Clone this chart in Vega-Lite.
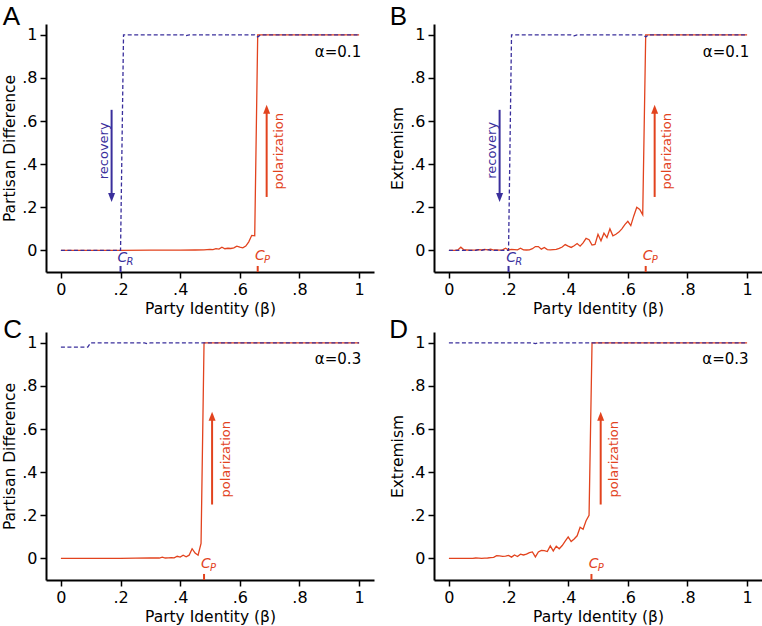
{
  "$schema": "https://vega.github.io/schema/vega-lite/v6.json",
  "padding": {"left": 2, "top": 3, "right": 0, "bottom": 0},
  "columns": 2,
  "spacing": {"row": -1, "column": 15},
  "config": {
    "view": {"stroke": null},
    "font": "DejaVu Sans",
    "text": {"baseline": "alphabetic"},
    "axis": {"domainColor": "#000", "domainWidth": 2, "tickColor": "#000", "tickWidth": 1.5, "tickSize": 6, "labelPadding": 3, "labelFontSize": 16, "labelColor": "#000", "titleFontSize": 15.5, "titleFontWeight": "normal", "titleColor": "#000", "grid": false, "labelFont": "DejaVu Sans", "titleFont": "DejaVu Sans", "titlePadding": 4, "labelOverlap": false, "labelFlush": false}
  },
  "datasets": {
    "A_pol": [
      {"beta": 0, "value": 0}, {"beta": 0.1, "value": 0}, {"beta": 0.2, "value": 0}, {"beta": 0.3, "value": 0.001}, {"beta": 0.4, "value": 0.001}, {"beta": 0.45, "value": 0.002}, {"beta": 0.48, "value": 0.003}, {"beta": 0.5, "value": 0.005}, {"beta": 0.51, "value": 0.004}, {"beta": 0.52, "value": 0.008}, {"beta": 0.53, "value": 0.006}, {"beta": 0.54, "value": 0.015}, {"beta": 0.55, "value": 0.008}, {"beta": 0.56, "value": 0.01}, {"beta": 0.57, "value": 0.009}, {"beta": 0.58, "value": 0.012}, {"beta": 0.59, "value": 0.02}, {"beta": 0.6, "value": 0.015}, {"beta": 0.61, "value": 0.012}, {"beta": 0.62, "value": 0.02}, {"beta": 0.63, "value": 0.04}, {"beta": 0.64, "value": 0.07}, {"beta": 0.65, "value": 0.068}, {"beta": 0.66, "value": 1}, {"beta": 0.8, "value": 1}, {"beta": 1, "value": 1}
    ],
    "A_rec": [
      {"beta": 0, "value": 0}, {"beta": 0.2, "value": 0}, {"beta": 0.21, "value": 1}, {"beta": 0.41, "value": 1}, {"beta": 0.42, "value": 0.996}, {"beta": 0.43, "value": 1}, {"beta": 0.65, "value": 1}, {"beta": 0.66, "value": 0.99}, {"beta": 0.67, "value": 1}, {"beta": 1, "value": 1}
    ],
    "B_pol": [
      {"beta": 0, "value": 0}, {"beta": 0.01, "value": 0}, {"beta": 0.02, "value": 0}, {"beta": 0.03, "value": 0.002}, {"beta": 0.04, "value": 0.015}, {"beta": 0.05, "value": 0.003}, {"beta": 0.06, "value": 0.002}, {"beta": 0.07, "value": 0.001}, {"beta": 0.08, "value": 0.001}, {"beta": 0.09, "value": 0.002}, {"beta": 0.1, "value": 0.004}, {"beta": 0.11, "value": 0.002}, {"beta": 0.12, "value": 0.005}, {"beta": 0.13, "value": 0.003}, {"beta": 0.14, "value": 0.006}, {"beta": 0.15, "value": 0.002}, {"beta": 0.16, "value": 0.002}, {"beta": 0.17, "value": 0.001}, {"beta": 0.18, "value": 0.003}, {"beta": 0.19, "value": 0.01}, {"beta": 0.2, "value": 0.002}, {"beta": 0.21, "value": 0.005}, {"beta": 0.22, "value": 0.004}, {"beta": 0.23, "value": 0.003}, {"beta": 0.24, "value": 0.01}, {"beta": 0.25, "value": 0.003}, {"beta": 0.26, "value": 0.002}, {"beta": 0.27, "value": 0.003}, {"beta": 0.28, "value": 0.008}, {"beta": 0.29, "value": 0.018}, {"beta": 0.3, "value": 0.018}, {"beta": 0.31, "value": 0.006}, {"beta": 0.32, "value": 0.014}, {"beta": 0.33, "value": 0.004}, {"beta": 0.34, "value": 0.003}, {"beta": 0.35, "value": 0.004}, {"beta": 0.36, "value": 0.005}, {"beta": 0.37, "value": 0.01}, {"beta": 0.38, "value": 0.016}, {"beta": 0.39, "value": 0.027}, {"beta": 0.4, "value": 0.02}, {"beta": 0.41, "value": 0.014}, {"beta": 0.42, "value": 0.022}, {"beta": 0.43, "value": 0.032}, {"beta": 0.44, "value": 0.02}, {"beta": 0.45, "value": 0.035}, {"beta": 0.46, "value": 0.056}, {"beta": 0.47, "value": 0.05}, {"beta": 0.48, "value": 0.025}, {"beta": 0.49, "value": 0.028}, {"beta": 0.5, "value": 0.075}, {"beta": 0.51, "value": 0.045}, {"beta": 0.52, "value": 0.08}, {"beta": 0.53, "value": 0.06}, {"beta": 0.54, "value": 0.1}, {"beta": 0.55, "value": 0.068}, {"beta": 0.56, "value": 0.075}, {"beta": 0.57, "value": 0.085}, {"beta": 0.58, "value": 0.1}, {"beta": 0.59, "value": 0.12}, {"beta": 0.6, "value": 0.135}, {"beta": 0.61, "value": 0.115}, {"beta": 0.62, "value": 0.16}, {"beta": 0.63, "value": 0.2}, {"beta": 0.64, "value": 0.19}, {"beta": 0.65, "value": 0.165}, {"beta": 0.66, "value": 1}, {"beta": 0.8, "value": 1}, {"beta": 1, "value": 1}
    ],
    "B_rec": [
      {"beta": 0, "value": 0}, {"beta": 0.09, "value": 0}, {"beta": 0.1, "value": 0.004}, {"beta": 0.11, "value": 0}, {"beta": 0.12, "value": 0.004}, {"beta": 0.13, "value": 0.004}, {"beta": 0.14, "value": 0}, {"beta": 0.2, "value": 0}, {"beta": 0.21, "value": 1}, {"beta": 0.41, "value": 1}, {"beta": 0.42, "value": 0.995}, {"beta": 0.43, "value": 1}, {"beta": 0.65, "value": 1}, {"beta": 0.66, "value": 0.99}, {"beta": 0.67, "value": 1}, {"beta": 1, "value": 1}
    ],
    "C_pol": [
      {"beta": 0, "value": 0}, {"beta": 0.1, "value": 0}, {"beta": 0.2, "value": 0}, {"beta": 0.25, "value": 0.001}, {"beta": 0.3, "value": 0.002}, {"beta": 0.33, "value": 0.002}, {"beta": 0.34, "value": 0.006}, {"beta": 0.35, "value": 0.002}, {"beta": 0.36, "value": 0.003}, {"beta": 0.37, "value": 0.004}, {"beta": 0.38, "value": 0.003}, {"beta": 0.39, "value": 0.01}, {"beta": 0.4, "value": 0.006}, {"beta": 0.41, "value": 0.015}, {"beta": 0.42, "value": 0.008}, {"beta": 0.43, "value": 0.015}, {"beta": 0.44, "value": 0.045}, {"beta": 0.45, "value": 0.025}, {"beta": 0.46, "value": 0.015}, {"beta": 0.47, "value": 0.07}, {"beta": 0.48, "value": 1}, {"beta": 0.7, "value": 1}, {"beta": 1, "value": 1}
    ],
    "C_rec": [
      {"beta": 0, "value": 0.98}, {"beta": 0.09, "value": 0.98}, {"beta": 0.1, "value": 1}, {"beta": 0.28, "value": 1}, {"beta": 0.29, "value": 0.996}, {"beta": 0.3, "value": 1}, {"beta": 1, "value": 1}
    ],
    "D_pol": [
      {"beta": 0, "value": 0}, {"beta": 0.08, "value": 0}, {"beta": 0.09, "value": 0.002}, {"beta": 0.1, "value": 0.001}, {"beta": 0.11, "value": 0}, {"beta": 0.12, "value": 0.001}, {"beta": 0.13, "value": 0.002}, {"beta": 0.14, "value": 0.004}, {"beta": 0.15, "value": 0.005}, {"beta": 0.16, "value": 0.013}, {"beta": 0.17, "value": 0.012}, {"beta": 0.18, "value": 0.01}, {"beta": 0.19, "value": 0.011}, {"beta": 0.2, "value": 0.014}, {"beta": 0.21, "value": 0.006}, {"beta": 0.22, "value": 0.016}, {"beta": 0.23, "value": 0.009}, {"beta": 0.24, "value": 0.02}, {"beta": 0.25, "value": 0.016}, {"beta": 0.26, "value": 0.02}, {"beta": 0.27, "value": 0.027}, {"beta": 0.28, "value": 0.03}, {"beta": 0.29, "value": 0.007}, {"beta": 0.3, "value": 0.03}, {"beta": 0.31, "value": 0.037}, {"beta": 0.32, "value": 0.036}, {"beta": 0.33, "value": 0.032}, {"beta": 0.34, "value": 0.058}, {"beta": 0.35, "value": 0.035}, {"beta": 0.36, "value": 0.057}, {"beta": 0.37, "value": 0.045}, {"beta": 0.38, "value": 0.06}, {"beta": 0.39, "value": 0.08}, {"beta": 0.4, "value": 0.1}, {"beta": 0.41, "value": 0.078}, {"beta": 0.42, "value": 0.09}, {"beta": 0.43, "value": 0.105}, {"beta": 0.44, "value": 0.145}, {"beta": 0.45, "value": 0.135}, {"beta": 0.46, "value": 0.175}, {"beta": 0.47, "value": 0.2}, {"beta": 0.48, "value": 1}, {"beta": 0.7, "value": 1}, {"beta": 1, "value": 1}
    ],
    "D_rec": [
      {"beta": 0, "value": 1}, {"beta": 0.28, "value": 1}, {"beta": 0.29, "value": 0.996}, {"beta": 0.3, "value": 1}, {"beta": 1, "value": 1}
    ]
  },
  "concat": [
    {
      "width": 328, "height": 248,
      "data": {"values": [{}]},
      "layer": [
        {"data": {"name": "A_pol"}, "mark": {"type": "line", "color": "#e2431e", "strokeWidth": 1.3},
         "encoding": {
           "x": {"field": "beta", "type": "quantitative", "scale": {"domain": [-0.05, 1.05], "nice": false, "zero": false}, "axis": {"title": "Party Identity (β)", "values": [0, 0.2, 0.4, 0.6, 0.8, 1], "labelExpr": "datum.value == 0 ? '0' : datum.value == 1 ? '1' : '.' + round(datum.value * 10)"}},
           "y": {"field": "value", "type": "quantitative", "scale": {"domain": [-0.1, 1.05], "nice": false, "zero": false}, "axis": {"title": "Partisan Difference", "values": [0, 0.2, 0.4, 0.6, 0.8, 1], "labelExpr": "datum.value == 0 ? '0' : datum.value == 1 ? '1' : '.' + round(datum.value * 10)"}}}},
        {"data": {"name": "A_rec"}, "mark": {"type": "line", "color": "#3a2f9c", "strokeWidth": 1.3, "strokeDash": [4, 2.5]},
         "encoding": {"x": {"field": "beta", "type": "quantitative"}, "y": {"field": "value", "type": "quantitative"}}},
        {"mark": {"type": "rule", "color": "#3a2f9c", "strokeWidth": 2}, "encoding": {"x": {"datum": 0.17, "type": "quantitative"}, "y": {"datum": 0.652, "type": "quantitative"}, "y2": {"datum": 0.25}}},
        {"mark": {"type": "point", "shape": "M0,0L-0.7,-1.8L0.7,-1.8Z", "size": 100, "filled": true, "opacity": 1, "strokeWidth": 0, "color": "#3a2f9c"}, "encoding": {"x": {"datum": 0.17, "type": "quantitative"}, "y": {"datum": 0.225, "type": "quantitative"}}},
        {"mark": {"type": "text", "text": "recovery", "angle": 270, "align": "center", "baseline": "middle", "fontSize": 13, "color": "#3a2f9c"}, "encoding": {"x": {"datum": 0.145, "type": "quantitative"}, "y": {"datum": 0.462, "type": "quantitative"}}},
        {"mark": {"type": "rule", "color": "#e2431e", "strokeWidth": 2}, "encoding": {"x": {"datum": 0.69, "type": "quantitative"}, "y": {"datum": 0.248, "type": "quantitative"}, "y2": {"datum": 0.65}}},
        {"mark": {"type": "point", "shape": "M0,0L-0.7,1.8L0.7,1.8Z", "size": 100, "filled": true, "opacity": 1, "strokeWidth": 0, "color": "#e2431e"}, "encoding": {"x": {"datum": 0.69, "type": "quantitative"}, "y": {"datum": 0.676, "type": "quantitative"}}},
        {"mark": {"type": "text", "text": "polarization", "angle": 270, "align": "center", "baseline": "middle", "fontSize": 13, "color": "#e2431e"}, "encoding": {"x": {"datum": 0.733, "type": "quantitative"}, "y": {"datum": 0.46, "type": "quantitative"}}},
        {"mark": {"type": "text", "text": "α=0.1", "align": "right", "baseline": "alphabetic", "fontSize": 15, "color": "#000"}, "encoding": {"x": {"datum": 1.007, "type": "quantitative"}, "y": {"datum": 0.898, "type": "quantitative"}}},
        {"mark": {"type": "rule", "color": "#3a2f9c", "strokeWidth": 2}, "encoding": {"x": {"datum": 0.2, "type": "quantitative"}, "y": {"datum": -0.1, "type": "quantitative"}, "y2": {"datum": -0.072}}},
        {"mark": {"type": "text", "text": "C", "fontStyle": "italic", "fontSize": 14, "align": "left", "baseline": "alphabetic", "color": "#3a2f9c"}, "encoding": {"x": {"datum": 0.19, "type": "quantitative"}, "y": {"datum": -0.052, "type": "quantitative"}}},
        {"mark": {"type": "text", "text": "R", "fontStyle": "italic", "fontSize": 10, "align": "left", "baseline": "alphabetic", "dx": 9, "dy": 3, "color": "#3a2f9c"}, "encoding": {"x": {"datum": 0.19, "type": "quantitative"}, "y": {"datum": -0.052, "type": "quantitative"}}},
        {"mark": {"type": "rule", "color": "#e2431e", "strokeWidth": 2}, "encoding": {"x": {"datum": 0.66, "type": "quantitative"}, "y": {"datum": -0.1, "type": "quantitative"}, "y2": {"datum": -0.072}}},
        {"mark": {"type": "text", "text": "C", "fontStyle": "italic", "fontSize": 14, "align": "left", "baseline": "alphabetic", "color": "#e2431e"}, "encoding": {"x": {"datum": 0.651, "type": "quantitative"}, "y": {"datum": -0.046, "type": "quantitative"}}},
        {"mark": {"type": "text", "text": "P", "fontStyle": "italic", "fontSize": 10, "align": "left", "baseline": "alphabetic", "dx": 9, "dy": 3, "color": "#e2431e"}, "encoding": {"x": {"datum": 0.651, "type": "quantitative"}, "y": {"datum": -0.046, "type": "quantitative"}}},
        {"mark": {"type": "text", "text": "A", "font": "Liberation Sans", "fontSize": 26, "align": "left", "baseline": "alphabetic", "color": "#000"}, "encoding": {"x": {"datum": -0.195, "type": "quantitative"}, "y": {"datum": 1.046, "type": "quantitative"}}}
      ]
    },
    {
      "width": 328, "height": 248,
      "data": {"values": [{}]},
      "layer": [
        {"data": {"name": "B_pol"}, "mark": {"type": "line", "color": "#e2431e", "strokeWidth": 1.3},
         "encoding": {
           "x": {"field": "beta", "type": "quantitative", "scale": {"domain": [-0.05, 1.05], "nice": false, "zero": false}, "axis": {"title": "Party Identity (β)", "values": [0, 0.2, 0.4, 0.6, 0.8, 1], "labelExpr": "datum.value == 0 ? '0' : datum.value == 1 ? '1' : '.' + round(datum.value * 10)"}},
           "y": {"field": "value", "type": "quantitative", "scale": {"domain": [-0.1, 1.05], "nice": false, "zero": false}, "axis": {"title": "Extremism", "values": [0, 0.2, 0.4, 0.6, 0.8, 1], "labelExpr": "datum.value == 0 ? '0' : datum.value == 1 ? '1' : '.' + round(datum.value * 10)"}}}},
        {"data": {"name": "B_rec"}, "mark": {"type": "line", "color": "#3a2f9c", "strokeWidth": 1.3, "strokeDash": [4, 2.5]},
         "encoding": {"x": {"field": "beta", "type": "quantitative"}, "y": {"field": "value", "type": "quantitative"}}},
        {"mark": {"type": "rule", "color": "#3a2f9c", "strokeWidth": 2}, "encoding": {"x": {"datum": 0.17, "type": "quantitative"}, "y": {"datum": 0.652, "type": "quantitative"}, "y2": {"datum": 0.25}}},
        {"mark": {"type": "point", "shape": "M0,0L-0.7,-1.8L0.7,-1.8Z", "size": 100, "filled": true, "opacity": 1, "strokeWidth": 0, "color": "#3a2f9c"}, "encoding": {"x": {"datum": 0.17, "type": "quantitative"}, "y": {"datum": 0.225, "type": "quantitative"}}},
        {"mark": {"type": "text", "text": "recovery", "angle": 270, "align": "center", "baseline": "middle", "fontSize": 13, "color": "#3a2f9c"}, "encoding": {"x": {"datum": 0.145, "type": "quantitative"}, "y": {"datum": 0.464, "type": "quantitative"}}},
        {"mark": {"type": "rule", "color": "#e2431e", "strokeWidth": 2}, "encoding": {"x": {"datum": 0.69, "type": "quantitative"}, "y": {"datum": 0.248, "type": "quantitative"}, "y2": {"datum": 0.65}}},
        {"mark": {"type": "point", "shape": "M0,0L-0.7,1.8L0.7,1.8Z", "size": 100, "filled": true, "opacity": 1, "strokeWidth": 0, "color": "#e2431e"}, "encoding": {"x": {"datum": 0.69, "type": "quantitative"}, "y": {"datum": 0.676, "type": "quantitative"}}},
        {"mark": {"type": "text", "text": "polarization", "angle": 270, "align": "center", "baseline": "middle", "fontSize": 13, "color": "#e2431e"}, "encoding": {"x": {"datum": 0.731, "type": "quantitative"}, "y": {"datum": 0.46, "type": "quantitative"}}},
        {"mark": {"type": "text", "text": "α=0.1", "align": "right", "baseline": "alphabetic", "fontSize": 15, "color": "#000"}, "encoding": {"x": {"datum": 1.007, "type": "quantitative"}, "y": {"datum": 0.898, "type": "quantitative"}}},
        {"mark": {"type": "rule", "color": "#3a2f9c", "strokeWidth": 2}, "encoding": {"x": {"datum": 0.2, "type": "quantitative"}, "y": {"datum": -0.1, "type": "quantitative"}, "y2": {"datum": -0.072}}},
        {"mark": {"type": "text", "text": "C", "fontStyle": "italic", "fontSize": 14, "align": "left", "baseline": "alphabetic", "color": "#3a2f9c"}, "encoding": {"x": {"datum": 0.192, "type": "quantitative"}, "y": {"datum": -0.052, "type": "quantitative"}}},
        {"mark": {"type": "text", "text": "R", "fontStyle": "italic", "fontSize": 10, "align": "left", "baseline": "alphabetic", "dx": 9, "dy": 3, "color": "#3a2f9c"}, "encoding": {"x": {"datum": 0.192, "type": "quantitative"}, "y": {"datum": -0.052, "type": "quantitative"}}},
        {"mark": {"type": "rule", "color": "#e2431e", "strokeWidth": 2}, "encoding": {"x": {"datum": 0.66, "type": "quantitative"}, "y": {"datum": -0.1, "type": "quantitative"}, "y2": {"datum": -0.072}}},
        {"mark": {"type": "text", "text": "C", "fontStyle": "italic", "fontSize": 14, "align": "left", "baseline": "alphabetic", "color": "#e2431e"}, "encoding": {"x": {"datum": 0.65, "type": "quantitative"}, "y": {"datum": -0.046, "type": "quantitative"}}},
        {"mark": {"type": "text", "text": "P", "fontStyle": "italic", "fontSize": 10, "align": "left", "baseline": "alphabetic", "dx": 9, "dy": 3, "color": "#e2431e"}, "encoding": {"x": {"datum": 0.65, "type": "quantitative"}, "y": {"datum": -0.046, "type": "quantitative"}}},
        {"mark": {"type": "text", "text": "B", "font": "Liberation Sans", "fontSize": 26, "align": "left", "baseline": "alphabetic", "color": "#000"}, "encoding": {"x": {"datum": -0.198, "type": "quantitative"}, "y": {"datum": 1.046, "type": "quantitative"}}}
      ]
    },
    {
      "width": 328, "height": 248,
      "data": {"values": [{}]},
      "layer": [
        {"data": {"name": "C_pol"}, "mark": {"type": "line", "color": "#e2431e", "strokeWidth": 1.3},
         "encoding": {
           "x": {"field": "beta", "type": "quantitative", "scale": {"domain": [-0.05, 1.05], "nice": false, "zero": false}, "axis": {"title": "Party Identity (β)", "values": [0, 0.2, 0.4, 0.6, 0.8, 1], "labelExpr": "datum.value == 0 ? '0' : datum.value == 1 ? '1' : '.' + round(datum.value * 10)"}},
           "y": {"field": "value", "type": "quantitative", "scale": {"domain": [-0.1, 1.05], "nice": false, "zero": false}, "axis": {"title": "Partisan Difference", "values": [0, 0.2, 0.4, 0.6, 0.8, 1], "labelExpr": "datum.value == 0 ? '0' : datum.value == 1 ? '1' : '.' + round(datum.value * 10)"}}}},
        {"data": {"name": "C_rec"}, "mark": {"type": "line", "color": "#3a2f9c", "strokeWidth": 1.3, "strokeDash": [4, 2.5]},
         "encoding": {"x": {"field": "beta", "type": "quantitative"}, "y": {"field": "value", "type": "quantitative"}}},
        {"mark": {"type": "rule", "color": "#e2431e", "strokeWidth": 2}, "encoding": {"x": {"datum": 0.507, "type": "quantitative"}, "y": {"datum": 0.25, "type": "quantitative"}, "y2": {"datum": 0.655}}},
        {"mark": {"type": "point", "shape": "M0,0L-0.7,1.8L0.7,1.8Z", "size": 100, "filled": true, "opacity": 1, "strokeWidth": 0, "color": "#e2431e"}, "encoding": {"x": {"datum": 0.507, "type": "quantitative"}, "y": {"datum": 0.68, "type": "quantitative"}}},
        {"mark": {"type": "text", "text": "polarization", "angle": 270, "align": "center", "baseline": "middle", "fontSize": 13, "color": "#e2431e"}, "encoding": {"x": {"datum": 0.554, "type": "quantitative"}, "y": {"datum": 0.46, "type": "quantitative"}}},
        {"mark": {"type": "text", "text": "α=0.3", "align": "right", "baseline": "alphabetic", "fontSize": 15, "color": "#000"}, "encoding": {"x": {"datum": 1.007, "type": "quantitative"}, "y": {"datum": 0.9, "type": "quantitative"}}},
        {"mark": {"type": "rule", "color": "#e2431e", "strokeWidth": 2}, "encoding": {"x": {"datum": 0.48, "type": "quantitative"}, "y": {"datum": -0.1, "type": "quantitative"}, "y2": {"datum": -0.072}}},
        {"mark": {"type": "text", "text": "C", "fontStyle": "italic", "fontSize": 14, "align": "left", "baseline": "alphabetic", "color": "#e2431e"}, "encoding": {"x": {"datum": 0.47, "type": "quantitative"}, "y": {"datum": -0.046, "type": "quantitative"}}},
        {"mark": {"type": "text", "text": "P", "fontStyle": "italic", "fontSize": 10, "align": "left", "baseline": "alphabetic", "dx": 9, "dy": 3, "color": "#e2431e"}, "encoding": {"x": {"datum": 0.47, "type": "quantitative"}, "y": {"datum": -0.046, "type": "quantitative"}}},
        {"mark": {"type": "text", "text": "C", "font": "Liberation Sans", "fontSize": 26, "align": "left", "baseline": "alphabetic", "color": "#000"}, "encoding": {"x": {"datum": -0.193, "type": "quantitative"}, "y": {"datum": 1.023, "type": "quantitative"}}}
      ]
    },
    {
      "width": 328, "height": 248,
      "data": {"values": [{}]},
      "layer": [
        {"data": {"name": "D_pol"}, "mark": {"type": "line", "color": "#e2431e", "strokeWidth": 1.3},
         "encoding": {
           "x": {"field": "beta", "type": "quantitative", "scale": {"domain": [-0.05, 1.05], "nice": false, "zero": false}, "axis": {"title": "Party Identity (β)", "values": [0, 0.2, 0.4, 0.6, 0.8, 1], "labelExpr": "datum.value == 0 ? '0' : datum.value == 1 ? '1' : '.' + round(datum.value * 10)"}},
           "y": {"field": "value", "type": "quantitative", "scale": {"domain": [-0.1, 1.05], "nice": false, "zero": false}, "axis": {"title": "Extremism", "values": [0, 0.2, 0.4, 0.6, 0.8, 1], "labelExpr": "datum.value == 0 ? '0' : datum.value == 1 ? '1' : '.' + round(datum.value * 10)"}}}},
        {"data": {"name": "D_rec"}, "mark": {"type": "line", "color": "#3a2f9c", "strokeWidth": 1.3, "strokeDash": [4, 2.5]},
         "encoding": {"x": {"field": "beta", "type": "quantitative"}, "y": {"field": "value", "type": "quantitative"}}},
        {"mark": {"type": "rule", "color": "#e2431e", "strokeWidth": 2}, "encoding": {"x": {"datum": 0.509, "type": "quantitative"}, "y": {"datum": 0.25, "type": "quantitative"}, "y2": {"datum": 0.655}}},
        {"mark": {"type": "point", "shape": "M0,0L-0.7,1.8L0.7,1.8Z", "size": 100, "filled": true, "opacity": 1, "strokeWidth": 0, "color": "#e2431e"}, "encoding": {"x": {"datum": 0.509, "type": "quantitative"}, "y": {"datum": 0.68, "type": "quantitative"}}},
        {"mark": {"type": "text", "text": "polarization", "angle": 270, "align": "center", "baseline": "middle", "fontSize": 13, "color": "#e2431e"}, "encoding": {"x": {"datum": 0.552, "type": "quantitative"}, "y": {"datum": 0.46, "type": "quantitative"}}},
        {"mark": {"type": "text", "text": "α=0.3", "align": "right", "baseline": "alphabetic", "fontSize": 15, "color": "#000"}, "encoding": {"x": {"datum": 1.005, "type": "quantitative"}, "y": {"datum": 0.9, "type": "quantitative"}}},
        {"mark": {"type": "rule", "color": "#e2431e", "strokeWidth": 2}, "encoding": {"x": {"datum": 0.478, "type": "quantitative"}, "y": {"datum": -0.1, "type": "quantitative"}, "y2": {"datum": -0.072}}},
        {"mark": {"type": "text", "text": "C", "fontStyle": "italic", "fontSize": 14, "align": "left", "baseline": "alphabetic", "color": "#e2431e"}, "encoding": {"x": {"datum": 0.469, "type": "quantitative"}, "y": {"datum": -0.046, "type": "quantitative"}}},
        {"mark": {"type": "text", "text": "P", "fontStyle": "italic", "fontSize": 10, "align": "left", "baseline": "alphabetic", "dx": 9, "dy": 3, "color": "#e2431e"}, "encoding": {"x": {"datum": 0.469, "type": "quantitative"}, "y": {"datum": -0.046, "type": "quantitative"}}},
        {"mark": {"type": "text", "text": "D", "font": "Liberation Sans", "fontSize": 26, "align": "left", "baseline": "alphabetic", "color": "#000"}, "encoding": {"x": {"datum": -0.2, "type": "quantitative"}, "y": {"datum": 1.023, "type": "quantitative"}}}
      ]
    }
  ]
}
